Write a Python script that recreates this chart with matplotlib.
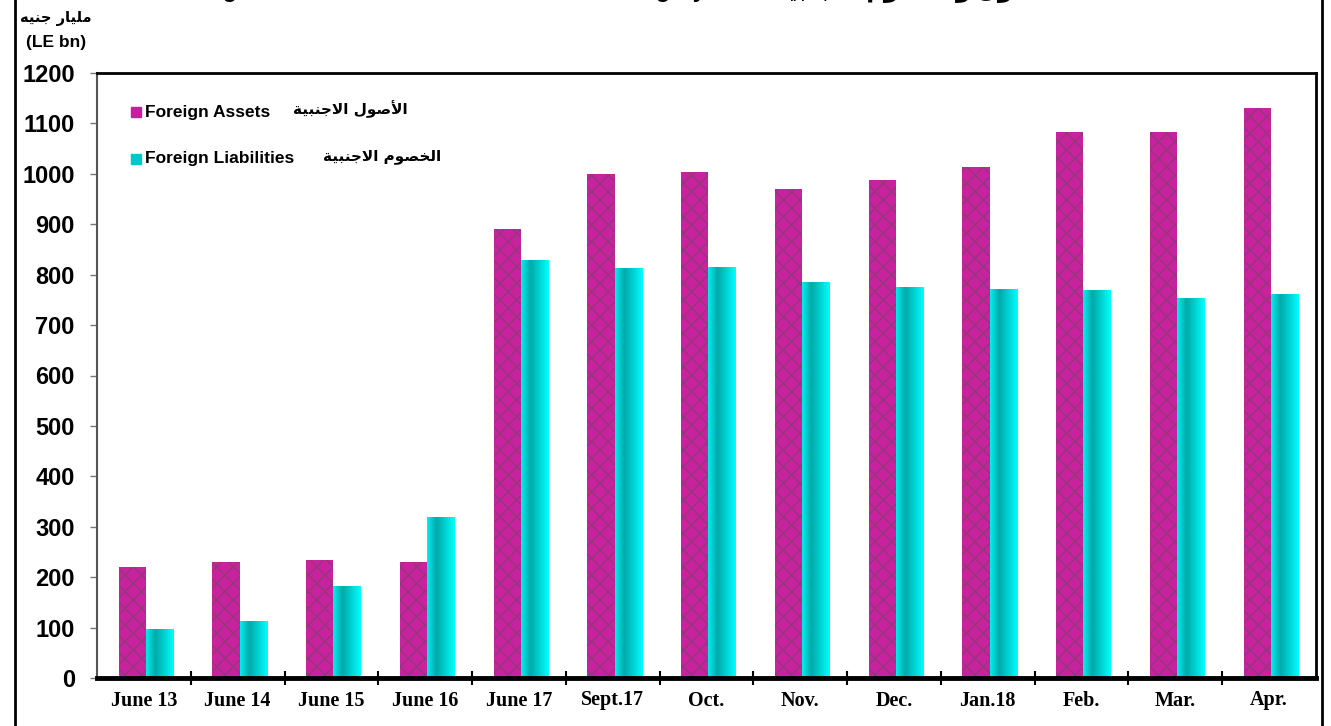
import numpy as np
import matplotlib
matplotlib.use("Agg")
import matplotlib.pyplot as plt
from matplotlib.colors import LinearSegmentedColormap
from matplotlib.lines import Line2D

categories = ["June 13", "June 14", "June 15", "June 16", "June 17", "Sept.17",
              "Oct.", "Nov.", "Dec.", "Jan.18", "Feb.", "Mar.", "Apr."]
foreign_assets = [220, 230, 234, 230, 890, 1000, 1003, 970, 988, 1013, 1083, 1083, 1131]
foreign_liabilities = [97, 113, 183, 320, 830, 813, 815, 785, 775, 771, 769, 753, 761]
y_ticks = list(range(0, 1201, 100))

# small Arabic shaper: contextual presentation forms + visual (RTL) order
FORMS = {
    "ا": ("\ufe8d", "\ufe8e", None, None), "أ": ("\ufe83", "\ufe84", None, None),
    "ب": ("\ufe8f", "\ufe90", "\ufe91", "\ufe92"), "ة": ("\ufe93", "\ufe94", None, None),
    "ج": ("\ufe9d", "\ufe9e", "\ufe9f", "\ufea0"), "خ": ("\ufea5", "\ufea6", "\ufea7", "\ufea8"),
    "ر": ("\ufead", "\ufeae", None, None), "ز": ("\ufeaf", "\ufeb0", None, None),
    "ص": ("\ufeb9", "\ufeba", "\ufebb", "\ufebc"), "ف": ("\ufed1", "\ufed2", "\ufed3", "\ufed4"),
    "ل": ("\ufedd", "\ufede", "\ufedf", "\ufee0"), "م": ("\ufee1", "\ufee2", "\ufee3", "\ufee4"),
    "ن": ("\ufee5", "\ufee6", "\ufee7", "\ufee8"), "ه": ("\ufee9", "\ufeea", "\ufeeb", "\ufeec"),
    "و": ("\ufeed", "\ufeee", None, None), "ي": ("\ufef1", "\ufef2", "\ufef3", "\ufef4"),
    "لا": ("\ufefb", "\ufefc", None, None), "لأ": ("\ufef7", "\ufef8", None, None),
}


def shape(text):
    toks = []
    i = 0
    while i < len(text):
        if text[i] == "ل" and i + 1 < len(text) and text[i + 1] in "اأ":
            toks.append(text[i:i + 2])
            i += 2
        else:
            toks.append(text[i])
            i += 1
    out = []
    for k, t in enumerate(toks):
        if t not in FORMS:
            out.append(t)
            continue
        prev = toks[k - 1] if k > 0 else None
        nxt = toks[k + 1] if k + 1 < len(toks) else None
        pj = prev in FORMS and FORMS[prev][2] is not None
        nj = nxt in FORMS and FORMS[t][2] is not None
        iso, fin, ini, med = FORMS[t]
        if pj and nj:
            out.append(med)
        elif pj:
            out.append(fin)
        elif nj:
            out.append(ini)
        else:
            out.append(iso)
    return "".join(out)[::-1]


W, H = 1331, 726
fig = plt.figure(figsize=(W / 100, H / 100), dpi=100)
ax = fig.add_axes([97 / W, (H - 678) / H, (1316 - 97) / W, (678 - 73) / H])

x = np.arange(len(categories))
w = 0.29
bars_a = ax.bar(x - w / 2 + 0.02, foreign_assets, w, facecolor="#C8229F",
                edgecolor="#933878", hatch="xx", linewidth=0, zorder=2)
bars_l = ax.bar(x + w / 2 + 0.02, foreign_liabilities, w, facecolor="none",
                linewidth=0, zorder=2)

cyan = LinearSegmentedColormap.from_list("cy", ["#00EEEE", "#00AAAA", "#00D2D2", "#00FFFF"])
grad = np.linspace(0, 1, 64)[None, :]
for b in bars_l:
    im = ax.imshow(grad, extent=[b.get_x(), b.get_x() + b.get_width(), 0, b.get_height()],
                   aspect="auto", cmap=cyan, zorder=2)
    im.set_clip_path(b)

ax.set_xlim(-0.5, len(categories) - 0.5)
ax.set_ylim(0, 1200)
ax.set_yticks(y_ticks)
ax.set_yticklabels([str(v) for v in y_ticks], fontsize=17, fontweight="bold",
                   family="Liberation Sans")
ax.tick_params(axis="y", direction="out", length=5, width=1, color="#777777", pad=11)

ax.set_xticks(x)
ax.set_xticklabels(categories, fontsize=14.5, fontweight="bold", family="Liberation Serif")
ax.tick_params(axis="x", which="major", length=0, pad=9)
ax.set_xticks(np.arange(0.5, len(categories) - 1, 1), minor=True)
ax.tick_params(axis="x", which="minor", direction="inout", length=10, width=1.5)

for s in ["top", "right"]:
    ax.spines[s].set_linewidth(2)
ax.spines["left"].set_linewidth(1.5)
ax.spines["left"].set_color("#555555")
ax.spines["bottom"].set_linewidth(3.5)

# legend (drawn as text, like the original)
leg_items = [("#C41F9E", "Foreign Assets", 0.935),
             ("#00C8C8", "Foreign Liabilities", 0.858)]
for col, en, yy in leg_items:
    ax.plot([0.032], [yy], marker="s", ms=7.5, color=col, transform=ax.transAxes,
            clip_on=False, zorder=3)
    ax.text(0.039, yy, en, transform=ax.transAxes, fontsize=12.5, fontweight="bold",
            family="Liberation Sans", va="center", ha="left")
ax.text(0.255, 0.940, shape("الأصول الاجنبية"), transform=ax.transAxes, fontsize=11,
        fontweight="bold", family="DejaVu Sans", va="center", ha="right")
ax.text(0.282, 0.862, shape("الخصوم الاجنبية"), transform=ax.transAxes, fontsize=11,
        fontweight="bold", family="DejaVu Sans", va="center", ha="right")

# unit label
fig.text(56 / W, 1 - 18 / H, shape("مليار جنيه"), fontsize=10.5, fontweight="bold",
         family="DejaVu Sans", ha="center", va="center")
fig.text(56 / W, 1 - 42 / H, "(LE bn)", fontsize=12.5, fontweight="bold",
         family="Liberation Sans", ha="center", va="center")

# title, cut off at the top edge as in the original
fig.text(165 / W, 1 + 4 / H, "Foreign Assets and Liabilities of the Banking System  "
         + shape("الأصول والخصوم الأجنبية"),
         fontsize=17, fontweight="bold", family=["Liberation Sans", "DejaVu Sans"],
         ha="left", va="baseline")

# outer frame
fig.add_artist(Line2D([15 / W, 15 / W], [0, 1], color="black", lw=2))
fig.add_artist(Line2D([1322 / W, 1322 / W], [0, 1], color="black", lw=2))

fig.savefig("out.png", dpi=100)
